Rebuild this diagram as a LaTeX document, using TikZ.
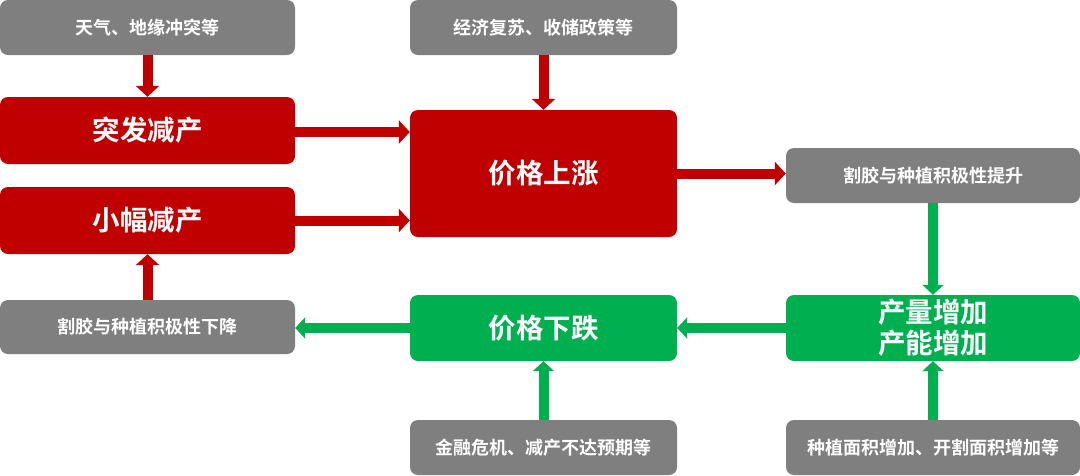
\documentclass[tikz,border=0pt]{standalone}
\usepackage{fontspec}
\setmainfont{Noto Sans CJK SC}[BoldFont={* Bold}]
\usetikzlibrary{arrows.meta}
\definecolor{cred}{HTML}{C00000}
\definecolor{cgray}{HTML}{7F7F7F}
\definecolor{cgreen}{HTML}{00B050}
\tikzset{
  boxbase/.style={rectangle, rounded corners=8pt, inner sep=0pt, text=white, font=\bfseries, align=center},
  graybox/.style={boxbase, fill=cgray, font=\bfseries\fontsize{18}{22}\selectfont},
  redbox/.style={boxbase, fill=cred, font=\bfseries\fontsize{27.5}{34}\selectfont},
  greenbox/.style={boxbase, fill=cgreen, font=\bfseries\fontsize{27.5}{34}\selectfont},
  redarrow/.style={draw=cred, line width=10pt, -{Triangle[width=23pt,length=11pt]}},
  greenarrow/.style={draw=cgreen, line width=10pt, -{Triangle[width=21pt,length=10pt]}},
}
\begin{document}
\begin{tikzpicture}[x=1pt,y=-1pt]
\useasboundingbox (0,0) rectangle (1080,475);
% left column
\node[graybox, minimum width=295pt, minimum height=55pt] (g1) at (147.5,27.5) {天气、地缘冲突等};
\node[redbox, minimum width=295pt, minimum height=67pt] (r1) at (147.5,130.5) {突发减产};
\node[redbox, minimum width=295pt, minimum height=67pt] (r2) at (147.5,220.5) {小幅减产};
\node[graybox, minimum width=295pt, minimum height=54pt] (g4) at (147.5,327) {割胶与种植积极性下降};
% middle column
\node[graybox, minimum width=267pt, minimum height=55pt] (g2) at (543.5,27.5) {经济复苏、收储政策等};
\node[redbox, minimum width=267pt, minimum height=127pt] (rc) at (543.5,173.5) {价格上涨};
\node[greenbox, minimum width=267pt, minimum height=66pt] (gr) at (543.5,328) {价格下跌};
\node[graybox, minimum width=267pt, minimum height=55pt] (g5) at (543.5,447.5) {金融危机、减产不达预期等};
% right column
\node[graybox, minimum width=294pt, minimum height=55pt] (g3) at (933,175.5) {割胶与种植积极性提升};
\node[greenbox, minimum width=294pt, minimum height=66pt] (gc) at (933,328) {产量增加\\[-3pt]产能增加};
\node[graybox, minimum width=294pt, minimum height=55pt] (g6) at (933,447.5) {种植面积增加、开割面积增加等};
% red arrows
\draw[redarrow] (g1.south) -- (r1.north);
\draw[redarrow] (g2.south) -- (rc.north);
\draw[redarrow] (r1.east) ++(0,1.5) -- (rc.west |- 0,132);
\draw[redarrow] (r2.east) -- (rc.west |- r2.east);
\draw[redarrow] (rc.east) -- (g3.west |- rc.east);
\draw[redarrow] (g4.north) -- (r2.south);
% green arrows
\draw[greenarrow] (g3.south) -- (gc.north);
\draw[greenarrow] (gc.west) -- (gr.east);
\draw[greenarrow] (gr.west) -- (g4.east |- gr.west);
\draw[greenarrow] (g5.north) -- (gr.south);
\draw[greenarrow] (g6.north) -- (gc.south);
\end{tikzpicture}
\end{document}
